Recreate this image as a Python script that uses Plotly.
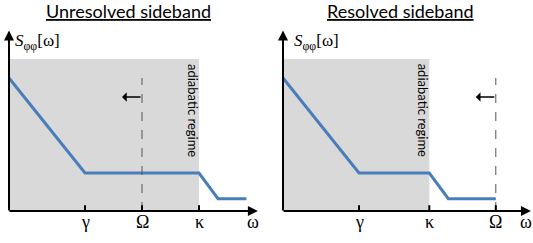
import plotly.graph_objects as go

# ---- data ----
titles = ["Unresolved sideband", "Resolved sideband"]
left_x = [0, 4, 10, 11, 12.5]
left_y = [7, 2, 2, 0.65, 0.65]
right_x = [0, 4, 7.7, 8.7, 11.2]
right_y = [7, 2, 2, 0.65, 0.65]
left_ticks = [4, 7, 10]
right_ticks = [4, 7.7, 11.2]
left_tick_labels = ["γ", "Ω", "κ"]
right_tick_labels = ["γ", "κ", "Ω"]
left_kappa, right_kappa = 10, 7.7
left_omega, right_omega = 7, 11.2
shade_top = 8
dash_top = 7
arrow_y = 6
region_label = "adiabatic regime"

W, H = 533, 243
PX = 19.0  # pixels per data unit
Y0PX = 211

def xdom(origin_px, r):
    return [(origin_px + r[0] * PX) / W, (origin_px + r[1] * PX) / W]

yr = [-1.6, 10.2]
ydom = [(H - (Y0PX - yr[0] * PX)) / H, (H - (Y0PX - yr[1] * PX)) / H]
lxr = [-0.4, 13.5]
rxr = [-0.4, 13.15]

fig = go.Figure()
line_color = "#4a7ebb"
shapes = []
annotations = []

panels = [
    dict(xa="x", ya="y", xs=left_x, ys=left_y, ticks=left_ticks, tl=left_tick_labels,
         kappa=left_kappa, omega=left_omega, title=titles[0], tcx=128, xend=13.1, wlab=12.84,
         slab=0.2, rtx=9.65),
    dict(xa="x2", ya="y2", xs=right_x, ys=right_y, ticks=right_ticks, tl=right_tick_labels,
         kappa=right_kappa, omega=right_omega, title=titles[1], tcx=400, xend=13.05, wlab=12.8,
         slab=0.45, rtx=7.35),
]

for p in panels:
    xa, ya = p["xa"], p["ya"]
    shapes.append(dict(type="rect", xref=xa, yref=ya, x0=0, x1=p["kappa"], y0=0, y1=shade_top,
                       fillcolor="#d9d9d9", line=dict(width=0), layer="below"))
    shapes.append(dict(type="line", xref=xa, yref=ya, x0=p["omega"], x1=p["omega"], y0=0, y1=dash_top,
                       line=dict(color="#555555", width=1, dash="dash")))
    for t in p["ticks"]:
        shapes.append(dict(type="line", xref=xa, yref=ya, x0=t, x1=t, y0=-0.02, y1=0.3,
                           line=dict(color="black", width=2)))
    fig.add_trace(go.Scatter(x=p["xs"], y=p["ys"], mode="lines", xaxis=xa, yaxis=ya,
                             line=dict(color=line_color, width=3), showlegend=False,
                             hoverinfo="skip"))
    # axes arrows
    annotations.append(dict(x=p["xend"], y=0, ax=-0.05, ay=0, xref=xa, yref=ya, axref=xa, ayref=ya,
                            text="", showarrow=True, arrowhead=2, arrowsize=1, arrowwidth=2,
                            arrowcolor="black"))
    annotations.append(dict(x=0, y=9.5, ax=0, ay=-0.05, xref=xa, yref=ya, axref=xa, ayref=ya,
                            text="", showarrow=True, arrowhead=2, arrowsize=1, arrowwidth=2,
                            arrowcolor="black"))
    # left arrow
    annotations.append(dict(x=p["omega"] - 1.05, y=arrow_y, ax=p["omega"], ay=arrow_y, xref=xa, yref=ya,
                            axref=xa, ayref=ya, text="", showarrow=True, arrowhead=1, arrowsize=1.2,
                            arrowwidth=1.3, arrowcolor="black"))
    for t, lab in zip(p["ticks"], p["tl"]):
        annotations.append(dict(x=t, y=-0.58, xref=xa, yref=ya, text=lab, showarrow=False,
                                font=dict(family="Liberation Serif", size=18, color="black")))
    annotations.append(dict(x=p["wlab"], y=-0.58, xref=xa, yref=ya, text="ω", showarrow=False,
                            font=dict(family="Liberation Serif", size=18, color="black")))
    annotations.append(dict(x=p["slab"], y=8.9, xref=xa, yref=ya, xanchor="left",
                            text="<i>S</i><sub>φφ</sub>[ω]", showarrow=False,
                            font=dict(family="Liberation Serif", size=17, color="black")))
    annotations.append(dict(x=p["rtx"], y=5.3, xref=xa, yref=ya, text=region_label, textangle=90,
                            showarrow=False, font=dict(family="Lato", size=13, color="black")))
    annotations.append(dict(x=p["tcx"] / W, y=(H - 11) / H, xref="paper", yref="paper",
                            xanchor="center", yanchor="middle",
                            text="<u>" + p["title"] + "</u>", showarrow=False,
                            font=dict(family="Lato", size=18, color="black")))

ax_common = dict(visible=False, showgrid=False, zeroline=False, fixedrange=True)
fig.update_layout(
    width=W, height=H, margin=dict(l=0, r=0, t=0, b=0),
    paper_bgcolor="white", plot_bgcolor="white",
    xaxis=dict(range=lxr, domain=xdom(9, lxr), anchor="y", **ax_common),
    yaxis=dict(range=yr, domain=ydom, anchor="x", **ax_common),
    xaxis2=dict(range=rxr, domain=xdom(283, rxr), anchor="y2", **ax_common),
    yaxis2=dict(range=yr, domain=ydom, anchor="x2", **ax_common),
    shapes=shapes, annotations=annotations,
)
fig.write_html("out.html", config={"displayModeBar": False},
               post_script="document.body.style.margin='0px';document.body.style.overflow='hidden';")
